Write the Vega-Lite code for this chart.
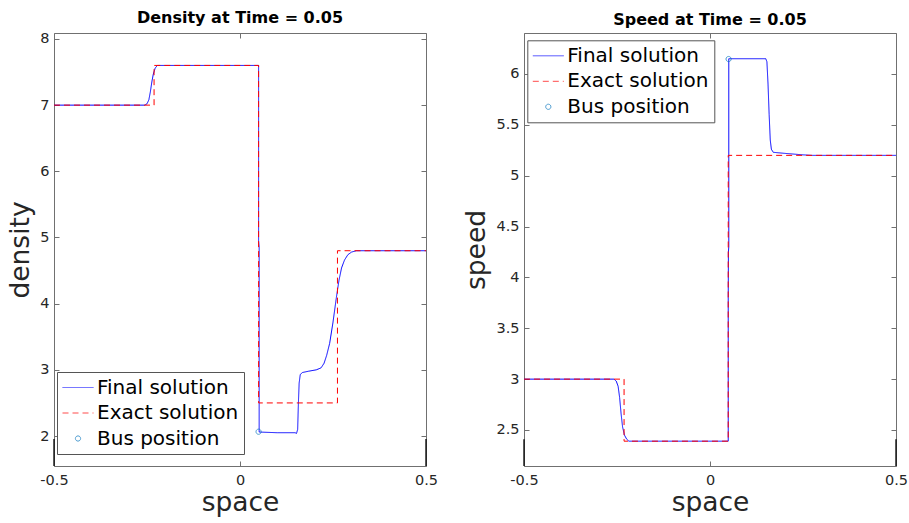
{
  "$schema": "https://vega.github.io/schema/vega-lite/v6.json",
  "padding": {"left": 7, "top": 9, "right": 5, "bottom": 5},
  "spacing": 98,
  "bounds": "flush",
  "datasets": {
    "density": [
      {"s": "Final solution", "i": 0, "x": -0.5, "y": 7},
      {"s": "Final solution", "i": 1, "x": -0.256, "y": 7},
      {"s": "Final solution", "i": 2, "x": -0.25, "y": 7.02},
      {"s": "Final solution", "i": 3, "x": -0.245, "y": 7.08},
      {"s": "Final solution", "i": 4, "x": -0.241, "y": 7.2},
      {"s": "Final solution", "i": 5, "x": -0.237, "y": 7.35},
      {"s": "Final solution", "i": 6, "x": -0.233, "y": 7.47},
      {"s": "Final solution", "i": 7, "x": -0.228, "y": 7.56},
      {"s": "Final solution", "i": 8, "x": -0.222, "y": 7.6},
      {"s": "Final solution", "i": 9, "x": 0.05, "y": 7.6},
      {"s": "Final solution", "i": 10, "x": 0.05, "y": 4.95},
      {"s": "Final solution", "i": 11, "x": 0.0515, "y": 4.85},
      {"s": "Final solution", "i": 12, "x": 0.0515, "y": 2.06},
      {"s": "Final solution", "i": 13, "x": 0.1, "y": 2.05},
      {"s": "Final solution", "i": 14, "x": 0.148, "y": 2.05},
      {"s": "Final solution", "i": 15, "x": 0.152, "y": 2.04},
      {"s": "Final solution", "i": 16, "x": 0.155, "y": 2.1},
      {"s": "Final solution", "i": 17, "x": 0.157, "y": 2.5},
      {"s": "Final solution", "i": 18, "x": 0.159, "y": 2.8},
      {"s": "Final solution", "i": 19, "x": 0.162, "y": 2.93},
      {"s": "Final solution", "i": 20, "x": 0.168, "y": 2.96},
      {"s": "Final solution", "i": 21, "x": 0.185, "y": 2.98},
      {"s": "Final solution", "i": 22, "x": 0.205, "y": 3.0},
      {"s": "Final solution", "i": 23, "x": 0.218, "y": 3.03},
      {"s": "Final solution", "i": 24, "x": 0.226, "y": 3.1},
      {"s": "Final solution", "i": 25, "x": 0.233, "y": 3.22},
      {"s": "Final solution", "i": 26, "x": 0.241, "y": 3.4},
      {"s": "Final solution", "i": 27, "x": 0.25, "y": 3.72},
      {"s": "Final solution", "i": 28, "x": 0.259, "y": 4.09},
      {"s": "Final solution", "i": 29, "x": 0.266, "y": 4.35},
      {"s": "Final solution", "i": 30, "x": 0.273, "y": 4.54},
      {"s": "Final solution", "i": 31, "x": 0.281, "y": 4.66},
      {"s": "Final solution", "i": 32, "x": 0.29, "y": 4.74},
      {"s": "Final solution", "i": 33, "x": 0.3, "y": 4.78},
      {"s": "Final solution", "i": 34, "x": 0.313, "y": 4.8},
      {"s": "Final solution", "i": 35, "x": 0.5, "y": 4.8},
      {"s": "Exact solution", "i": 0, "x": -0.5, "y": 7},
      {"s": "Exact solution", "i": 1, "x": -0.231, "y": 7},
      {"s": "Exact solution", "i": 2, "x": -0.231, "y": 7.6},
      {"s": "Exact solution", "i": 3, "x": 0.05, "y": 7.6},
      {"s": "Exact solution", "i": 4, "x": 0.05, "y": 2.5},
      {"s": "Exact solution", "i": 5, "x": 0.262, "y": 2.5},
      {"s": "Exact solution", "i": 6, "x": 0.262, "y": 4.8},
      {"s": "Exact solution", "i": 7, "x": 0.5, "y": 4.8},
      {"s": "Bus position", "i": 0, "x": 0.05, "y": 2.065},
      {"s": "edge", "i": 0, "x": -0.5, "y": 1.547, "y2": 1.955},
      {"s": "edge", "i": 1, "x": 0.5, "y": 1.547, "y2": 1.955}
    ],
    "speed": [
      {"s": "Final solution", "i": 0, "x": -0.5, "y": 3},
      {"s": "Final solution", "i": 1, "x": -0.258, "y": 3},
      {"s": "Final solution", "i": 2, "x": -0.252, "y": 2.98},
      {"s": "Final solution", "i": 3, "x": -0.247, "y": 2.93},
      {"s": "Final solution", "i": 4, "x": -0.243, "y": 2.82},
      {"s": "Final solution", "i": 5, "x": -0.239, "y": 2.66},
      {"s": "Final solution", "i": 6, "x": -0.235, "y": 2.53},
      {"s": "Final solution", "i": 7, "x": -0.23, "y": 2.45},
      {"s": "Final solution", "i": 8, "x": -0.224, "y": 2.41},
      {"s": "Final solution", "i": 9, "x": -0.218, "y": 2.39},
      {"s": "Final solution", "i": 10, "x": 0.049, "y": 2.39},
      {"s": "Final solution", "i": 11, "x": 0.049, "y": 3.8},
      {"s": "Final solution", "i": 12, "x": 0.0495, "y": 4.25},
      {"s": "Final solution", "i": 13, "x": 0.0505, "y": 4.3},
      {"s": "Final solution", "i": 14, "x": 0.0505, "y": 6.15},
      {"s": "Final solution", "i": 15, "x": 0.15, "y": 6.15},
      {"s": "Final solution", "i": 16, "x": 0.153, "y": 6.12},
      {"s": "Final solution", "i": 17, "x": 0.156, "y": 5.9},
      {"s": "Final solution", "i": 18, "x": 0.159, "y": 5.6},
      {"s": "Final solution", "i": 19, "x": 0.162, "y": 5.35},
      {"s": "Final solution", "i": 20, "x": 0.165, "y": 5.26},
      {"s": "Final solution", "i": 21, "x": 0.17, "y": 5.23},
      {"s": "Final solution", "i": 22, "x": 0.2, "y": 5.22},
      {"s": "Final solution", "i": 23, "x": 0.25, "y": 5.205},
      {"s": "Final solution", "i": 24, "x": 0.275, "y": 5.2},
      {"s": "Final solution", "i": 25, "x": 0.5, "y": 5.2},
      {"s": "Exact solution", "i": 0, "x": -0.5, "y": 3},
      {"s": "Exact solution", "i": 1, "x": -0.231, "y": 3},
      {"s": "Exact solution", "i": 2, "x": -0.231, "y": 2.39},
      {"s": "Exact solution", "i": 3, "x": 0.049, "y": 2.39},
      {"s": "Exact solution", "i": 4, "x": 0.049, "y": 5.2},
      {"s": "Exact solution", "i": 5, "x": 0.5, "y": 5.2},
      {"s": "Bus position", "i": 0, "x": 0.05, "y": 6.147},
      {"s": "edge", "i": 0, "x": -0.5, "y": 2.146, "y2": 2.41},
      {"s": "edge", "i": 1, "x": 0.5, "y": 2.146, "y2": 2.41}
    ]
  },
  "resolve": {
    "scale": {"color": "independent", "strokeDash": "independent", "shape": "independent", "y": "independent", "x": "independent"},
    "legend": {"color": "independent", "strokeDash": "independent", "shape": "independent"}
  },
  "hconcat": [
    {
      "width": 372,
      "height": 433,
      "title": "Density at Time = 0.05",
      "data": {"name": "density"},
      "resolve": {"axis": {"x": "independent", "y": "independent"}},
      "layer": [
        {
          "transform": [{"filter": "datum.s == 'Final solution'"}],
          "mark": {"type": "line", "strokeWidth": 1},
          "encoding": {
            "x": {"field": "x", "type": "quantitative", "scale": {"domain": [-0.5, 0.5], "nice": false, "zero": false},
                  "axis": {"values": [-0.5, 0, 0.5], "title": "space", "labelExpr": "datum.value < 0 ? '-' + format(-datum.value, '.1~f') : format(datum.value, '.1~f')"}},
            "y": {"field": "y", "type": "quantitative", "scale": {"domain": [1.547, 8.09], "nice": false, "zero": false},
                  "axis": {"values": [2, 3, 4, 5, 6, 7, 8], "title": "density", "format": "~g"}},
            "order": {"field": "i"},
            "color": {"field": "s", "type": "nominal", "scale": {"domain": ["Final solution", "Exact solution", "Bus position"], "range": ["#0000ff", "#ff0000", "#0072bd"]},
                      "legend": {"orient": "none", "legendX": 3, "legendY": 339}},
            "strokeDash": {"field": "s", "type": "nominal", "scale": {"domain": ["Final solution", "Exact solution", "Bus position"], "range": [[1, 0], [6, 4], [1, 0]]},
                      "legend": {"orient": "none", "legendX": 3, "legendY": 339}}
          }
        },
        {
          "transform": [{"filter": "datum.s == 'Exact solution'"}],
          "mark": {"type": "line", "strokeWidth": 1},
          "encoding": {
            "x": {"field": "x", "type": "quantitative", "axis": null},
            "y": {"field": "y", "type": "quantitative", "axis": null},
            "order": {"field": "i"},
            "color": {"field": "s", "type": "nominal"},
            "strokeDash": {"field": "s", "type": "nominal"}
          }
        },
        {
          "transform": [{"filter": "datum.s == 'edge'"}],
          "mark": {"type": "rule", "color": "#000000", "strokeWidth": 1.3},
          "encoding": {
            "x": {"field": "x", "type": "quantitative", "axis": null},
            "y": {"field": "y", "type": "quantitative", "axis": null},
            "y2": {"field": "y2"}
          }
        },
        {
          "transform": [{"filter": "datum.s == 'Bus position'"}],
          "mark": {"type": "point", "filled": false, "strokeWidth": 1, "size": 400},
          "encoding": {
            "x": {"field": "x", "type": "quantitative", "axis": {"orient": "top", "values": [-0.5, 0, 0.5], "labels": false, "title": null}},
            "y": {"field": "y", "type": "quantitative", "axis": {"orient": "right", "values": [2, 3, 4, 5, 6, 7, 8], "labels": false, "title": null}},
            "color": {"field": "s", "type": "nominal"},
            "shape": {"field": "s", "type": "nominal", "scale": {"domain": ["Final solution", "Exact solution", "Bus position"], "range": ["M-1.55,0H1.55", "M-1.55,0H1.55", "M0.26,0A0.26,0.26 0 1,1 -0.26,0A0.26,0.26 0 1,1 0.26,0Z"]},
                      "legend": {"orient": "none", "legendX": 3, "legendY": 339}}
          }
        }
      ]
    },
    {
      "width": 372,
      "height": 433,
      "title": "Speed at Time = 0.05",
      "data": {"name": "speed"},
      "resolve": {"axis": {"x": "independent", "y": "independent"}},
      "layer": [
        {
          "transform": [{"filter": "datum.s == 'Final solution'"}],
          "mark": {"type": "line", "strokeWidth": 1},
          "encoding": {
            "x": {"field": "x", "type": "quantitative", "scale": {"domain": [-0.5, 0.5], "nice": false, "zero": false},
                  "axis": {"values": [-0.5, 0, 0.5], "title": "space", "labelExpr": "datum.value < 0 ? '-' + format(-datum.value, '.1~f') : format(datum.value, '.1~f')"}},
            "y": {"field": "y", "type": "quantitative", "scale": {"domain": [2.146, 6.403], "nice": false, "zero": false},
                  "axis": {"values": [2.5, 3, 3.5, 4, 4.5, 5, 5.5, 6], "title": "speed", "format": ".1~f"}},
            "order": {"field": "i"},
            "color": {"field": "s", "type": "nominal", "scale": {"domain": ["Final solution", "Exact solution", "Bus position"], "range": ["#0000ff", "#ff0000", "#0072bd"]},
                      "legend": {"orient": "none", "legendX": 3.3, "legendY": 7.3}},
            "strokeDash": {"field": "s", "type": "nominal", "scale": {"domain": ["Final solution", "Exact solution", "Bus position"], "range": [[1, 0], [6, 4], [1, 0]]},
                      "legend": {"orient": "none", "legendX": 3.3, "legendY": 7.3}}
          }
        },
        {
          "transform": [{"filter": "datum.s == 'Exact solution'"}],
          "mark": {"type": "line", "strokeWidth": 1},
          "encoding": {
            "x": {"field": "x", "type": "quantitative", "axis": null},
            "y": {"field": "y", "type": "quantitative", "axis": null},
            "order": {"field": "i"},
            "color": {"field": "s", "type": "nominal"},
            "strokeDash": {"field": "s", "type": "nominal"}
          }
        },
        {
          "transform": [{"filter": "datum.s == 'edge'"}],
          "mark": {"type": "rule", "color": "#000000", "strokeWidth": 1.3},
          "encoding": {
            "x": {"field": "x", "type": "quantitative", "axis": null},
            "y": {"field": "y", "type": "quantitative", "axis": null},
            "y2": {"field": "y2"}
          }
        },
        {
          "transform": [{"filter": "datum.s == 'Bus position'"}],
          "mark": {"type": "point", "filled": false, "strokeWidth": 1, "size": 400},
          "encoding": {
            "x": {"field": "x", "type": "quantitative", "axis": {"orient": "top", "values": [-0.5, 0, 0.5], "labels": false, "title": null}},
            "y": {"field": "y", "type": "quantitative", "axis": {"orient": "right", "values": [2.5, 3, 3.5, 4, 4.5, 5, 5.5, 6], "labels": false, "title": null}},
            "color": {"field": "s", "type": "nominal"},
            "shape": {"field": "s", "type": "nominal", "scale": {"domain": ["Final solution", "Exact solution", "Bus position"], "range": ["M-1.55,0H1.55", "M-1.55,0H1.55", "M0.26,0A0.26,0.26 0 1,1 -0.26,0A0.26,0.26 0 1,1 0.26,0Z"]},
                      "legend": {"orient": "none", "legendX": 3.3, "legendY": 7.3}}
          }
        }
      ]
    }
  ],
  "config": {
    "font": "DejaVu Sans",
    "view": {"stroke": "#707070", "strokeWidth": 1},
    "title": {"fontSize": 16, "fontWeight": "bold", "color": "#000000", "font": "DejaVu Sans", "offset": 5},
    "axis": {
      "grid": false,
      "domain": false,
      "tickColor": "#707070",
      "tickSize": -5,
      "labelFont": "DejaVu Sans",
      "labelFontSize": 14.5,
      "labelColor": "#262626",
      "labelFlush": false,
      "labelOverlap": false,
      "titleFont": "DejaVu Sans",
      "titleFontSize": 26.5,
      "titleFontWeight": "normal",
      "titleColor": "#262626"
    },
    "axisX": {"labelPadding": 12, "titlePadding": 3},
    "axisY": {"labelPadding": 10, "titlePadding": 5},
    "legend": {
      "title": null,
      "labelFont": "DejaVu Sans",
      "labelFontSize": 20,
      "labelColor": "#000000",
      "symbolSize": 400,
      "symbolOffset": 5.5,
      "symbolStrokeWidth": 1,
      "strokeColor": "#555555",
      "fillColor": "#ffffff",
      "padding": 5,
      "rowPadding": 4.5,
      "labelOffset": 8.5,
      "cornerRadius": 0
    }
  }
}
